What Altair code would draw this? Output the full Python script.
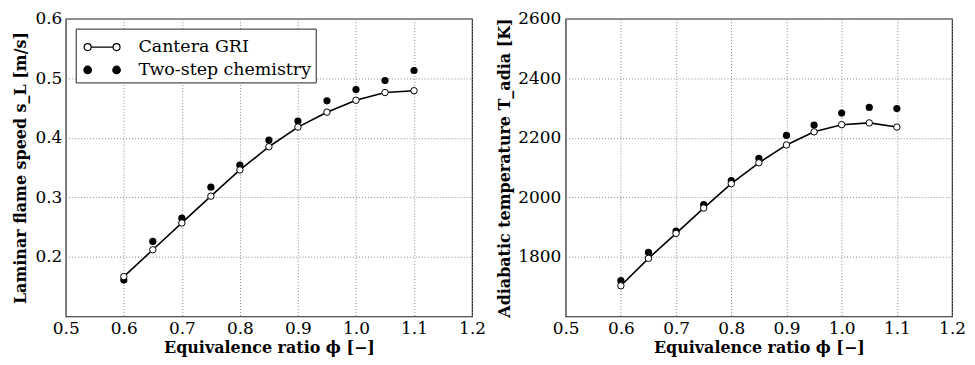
import altair as alt
import pandas as pd

# ---------------- data ----------------
phi = [0.60, 0.65, 0.70, 0.75, 0.80, 0.85, 0.90, 0.95, 1.00, 1.05, 1.10]
sl_cantera = [0.167, 0.212, 0.257, 0.302, 0.346, 0.385, 0.418, 0.443, 0.463, 0.476, 0.479]
sl_twostep = [0.161, 0.226, 0.265, 0.317, 0.354, 0.396, 0.428, 0.462, 0.481, 0.496, 0.513]
t_cantera = [1703, 1795, 1879, 1964, 2046, 2116, 2176, 2220, 2244, 2250, 2236]
t_twostep = [1720, 1815, 1887, 1976, 2056, 2131, 2208, 2243, 2283, 2302, 2298]
series = ["Cantera GRI", "Two-step chemistry"]
x_ticks = [0.5, 0.6, 0.7, 0.8, 0.9, 1.0, 1.1, 1.2]
sl_ticks = [0.2, 0.3, 0.4, 0.5, 0.6]
t_ticks = [1800, 2000, 2200, 2400, 2600]

FONT = "DejaVu Serif"

# legend glyphs (matplotlib style: two markers per entry)
CANTERA_GLYPH = ("M-1.334,0 A0.26,0.26 0 1,1 -0.814,0 A0.26,0.26 0 1,1 -1.334,0 Z "
                 "M-0.814,0 L0.814,0 "
                 "M0.814,0 A0.26,0.26 0 1,1 1.334,0 A0.26,0.26 0 1,1 0.814,0 Z")
TWOSTEP_GLYPH = ("M-1.354,0 A0.28,0.28 0 1,1 -0.794,0 A0.28,0.28 0 1,1 -1.354,0 Z "
                 "M0.794,0 A0.28,0.28 0 1,1 1.354,0 A0.28,0.28 0 1,1 0.794,0 Z")


def make_df(cantera, twostep):
    return pd.DataFrame({
        "phi": phi + phi,
        "val": cantera + twostep,
        "series": [series[0]] * len(phi) + [series[1]] * len(phi),
    })


def panel(df, ydomain, yticks, ytitle, yfmt, width, lab_pad, title_pad):
    x = alt.X("phi:Q",
              scale=alt.Scale(domain=[0.5, 1.2], nice=False, zero=False),
              axis=alt.Axis(values=x_ticks, format=".1f", title="Equivalence ratio ϕ [−]",
                            labelFlush=False, titlePadding=3, labelPadding=4))
    y = alt.Y("val:Q",
              scale=alt.Scale(domain=ydomain, nice=False, zero=False),
              axis=alt.Axis(values=yticks, format=yfmt, title=ytitle,
                            labelPadding=lab_pad, titlePadding=title_pad))
    base = alt.Chart(df).encode(x=x, y=y)
    is_c = alt.datum.series == series[0]
    is_t = alt.datum.series == series[1]

    line = base.transform_filter(is_c).mark_line(color="black", strokeWidth=1.6)
    open_pts = base.transform_filter(is_c).mark_point(
        shape="circle", filled=True, fill="white", stroke="black",
        strokeWidth=1, size=42, opacity=1)
    dots = base.transform_filter(is_t).mark_point(
        shape="circle", filled=True, color="black", size=52, opacity=1)

    leg_spec = alt.Legend(
        title=None, orient="top-left", offset=10, padding=4,
        strokeColor="#222", fillColor="white", cornerRadius=0,
        labelFont=FONT, labelFontSize=17.5, labelColor="black",
        labelLimit=400, labelOffset=22, symbolOffset=8, rowPadding=0,
        symbolSize=729, symbolStrokeWidth=1.2, symbolOpacity=1)
    leg = base.transform_filter("false").mark_point(
        filled=True, size=729, opacity=1, strokeWidth=1.2
    ).encode(
        shape=alt.Shape("series:N", scale=alt.Scale(domain=series,
                        range=[CANTERA_GLYPH, TWOSTEP_GLYPH]), legend=leg_spec),
        fill=alt.Fill("series:N", scale=alt.Scale(domain=series,
                      range=["white", "black"]), legend=leg_spec),
        stroke=alt.Stroke("series:N", scale=alt.Scale(domain=series,
                          range=["black", "black"]), legend=leg_spec),
    )

    return alt.layer(line, dots, open_pts, leg).properties(width=width, height=299)


left = panel(make_df(sl_cantera, sl_twostep), [0.1, 0.6], sl_ticks,
             "Laminar flame speed s_L [m/s]", ".1f", 408, 4, 6)
right = panel(make_df(t_cantera, t_twostep), [1600, 2600], t_ticks,
              "Adiabatic temperature T_adia [K]", "d", 388, 5, 5)

chart = alt.hconcat(left, right, spacing=9).properties(
    padding={"left": 4, "top": 0, "right": 0, "bottom": 0}
).configure_view(
    stroke="#222", strokeWidth=1.2
).configure_axis(
    labelFont=FONT, labelFontSize=17, labelColor="black",
    titleFont=FONT, titleFontSize=16, titleFontWeight="bold", titleColor="black",
    domain=False, ticks=False,
    grid=True, gridColor="#8a8a8a", gridDash=[1, 2], gridWidth=1, gridOpacity=1,
)

chart.save("out.html", embed_options={"renderer": "svg", "actions": False})
